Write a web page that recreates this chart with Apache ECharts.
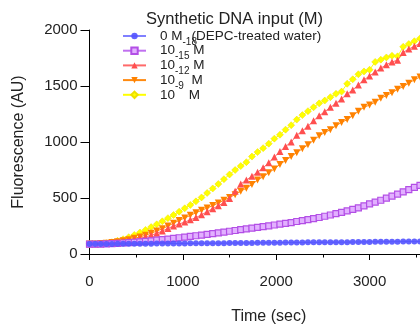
<!DOCTYPE html>
<html><head><meta charset="utf-8">
<script src="https://cdn.jsdelivr.net/npm/echarts@6/dist/echarts.min.js"></script>
<style>html,body{margin:0;padding:0;background:#fff}#c{width:420px;height:325px}</style>
</head><body><div id="c"></div>
<script>
const times = [0,60,120,180,240,300,360,420,480,540,600,660,720,780,840,900,960,1020,1080,1140,1200,1260,1320,1380,1440,1500,1560,1620,1680,1740,1800,1860,1920,1980,2040,2100,2160,2220,2280,2340,2400,2460,2520,2580,2640,2700,2760,2820,2880,2940,3000,3060,3120,3180,3240,3300,3360,3420,3480,3540];
const blueVals = [90,90,90,90,90,91,91,91,91,92,92,92,93,93,93,94,94,94,95,95,96,96,96,97,97,98,98,98,99,99,100,100,101,101,101,102,102,103,103,104,104,104,105,105,106,106,106,107,107,108,108,109,109,109,110,110,111,111,111,112];
const purpleVals = [88,88,89,90,92,95,98,101,105,109,113,118,123,128,133,139,145,151,157,163,169,175,182,189,196,203,210,217,224,231,238,245,252,259,266,273,281,290,298,307,316,326,337,348,360,372,385,398,412,430,447,463,480,498,516,535,555,575,595,612];
const redVals = [90,90,92,95,100,106,112,120,130,140,152,168,185,205,228,250,268,285,305,325,350,378,405,430,460,495,560,625,660,695,730,770,815,865,915,960,1000,1060,1100,1140,1190,1235,1270,1310,1345,1385,1430,1465,1510,1555,1590,1625,1660,1690,1715,1730,1800,1830,1855,1880];
const orangeVals = [90,90,93,97,103,110,118,128,140,152,168,185,205,225,250,275,300,322,345,368,390,410,432,455,480,505,530,560,588,620,660,690,725,760,800,835,870,905,940,975,1015,1055,1085,1110,1145,1175,1200,1235,1275,1310,1330,1355,1390,1415,1440,1470,1495,1525,1555,1580];
const yellowVals = [90,90,92,97,105,118,132,150,170,192,215,240,265,292,320,348,378,408,438,470,505,545,585,625,668,710,750,785,820,870,910,945,985,1030,1065,1110,1150,1200,1240,1275,1310,1345,1370,1400,1430,1450,1520,1560,1605,1630,1645,1715,1735,1755,1770,1765,1850,1875,1900,1925];
const seriesNames = ['0 M (DEPC-treated water)','10⁻¹⁸ M','10⁻¹⁵ M','10⁻¹² M','10⁻⁹ M'];
const legendLabels = ['0 M{s1|-18}(DEPC-treated water)','10{s|-15} M','10{s|-12} M','10{s|-9}  M','10{g| } M'];
const xTicks = [0,1000,2000,3000];
const yTicks = [0,500,1000,1500,2000];

const F = "'Liberation Sans', Arial, Helvetica, sans-serif";
const pairs = vals => vals.map((v,i)=>[times[i], v]);
const chart = echarts.init(document.getElementById('c'), null, {renderer:'canvas'});
const subStyle = {fontFamily:F,fontSize:10,lineHeight:10,verticalAlign:'bottom',color:'#222'};
const option = {
  animation:false,
  backgroundColor:'#fff',
  title:{text:'Synthetic DNA input (M)', left:146, top:11, padding:0,
    textStyle:{fontFamily:F,fontSize:16.5,fontWeight:'normal',color:'#222'}},
  legend:{orient:'vertical', left:122, top:25, itemWidth:23, itemHeight:8, itemGap:-7.3, padding:0,
    data:seriesNames,
    formatter:n=>legendLabels[seriesNames.indexOf(n)],
    textStyle:{fontFamily:F,fontSize:13.5,color:'#222',lineHeight:22,padding:[0,0,0,9],
      rich:{s:subStyle, s1:Object.assign({},subStyle,{width:9}), g:Object.assign({},subStyle,{width:10})}}},
  grid:{left:89.5,right:0,top:30,bottom:71,containLabel:false,outerBoundsMode:'none'},
  xAxis:[{type:'value',min:0,max:3540,interval:1000,name:'Time (sec)',nameLocation:'middle',nameGap:55,
    nameTextStyle:{fontFamily:F,fontSize:16,color:'#222',padding:[0,0,0,28]},
    axisLine:{show:true,lineStyle:{color:'#000',width:1}},
    axisTick:{show:true,length:6,lineStyle:{color:'#000'}},
    axisLabel:{fontFamily:F,fontSize:15,color:'#222',margin:20,showMaxLabel:false,
      formatter:v=>xTicks.indexOf(v)>=0?String(v):''},
    splitLine:{show:false}},
   {type:'value',min:0,max:3540,interval:500,position:'bottom',
    axisLine:{show:false},axisTick:{show:true,length:3.5,lineStyle:{color:'#000'}},
    axisLabel:{show:false},splitLine:{show:false}}],
  yAxis:{type:'value',min:0,max:2000,interval:500,name:'Fluorescence (AU)',nameLocation:'middle',nameGap:63,
    nameTextStyle:{fontFamily:F,fontSize:16,color:'#222'},
    axisLine:{show:true,lineStyle:{color:'#000',width:1}},
    axisTick:{show:true,length:9,lineStyle:{color:'#000'}},
    axisLabel:{fontFamily:F,fontSize:15,color:'#222',margin:12,formatter:v=>yTicks.indexOf(v)>=0?String(v):''},
    splitLine:{show:false}},
  series:[
    {name:seriesNames[0],type:'line',data:pairs(blueVals),z:7,symbol:'circle',symbolSize:6,showAllSymbol:true,
      itemStyle:{color:'#5252ff',opacity:0.9},lineStyle:{color:'#8080ff',width:1}},
    {name:seriesNames[1],type:'line',data:pairs(purpleVals),z:6,symbol:'rect',symbolSize:6,showAllSymbol:true,
      itemStyle:{color:'#e2b0ff',borderColor:'#b34fe6',borderWidth:1.2},lineStyle:{color:'#c070f0',width:1}},
    {name:seriesNames[2],type:'line',data:pairs(redVals),z:5,symbol:'triangle',symbolSize:7,showAllSymbol:true,
      itemStyle:{color:'#ff4f4f'},lineStyle:{color:'#ff6a6a',width:1}},
    {name:seriesNames[3],type:'line',data:pairs(orangeVals),z:4,symbol:'triangle',symbolRotate:180,symbolSize:7,showAllSymbol:true,
      itemStyle:{color:'#ff8200'},lineStyle:{color:'#ff8a10',width:1}},
    {name:seriesNames[4],type:'line',data:pairs(yellowVals),z:3,symbol:'diamond',symbolSize:7,showAllSymbol:true,
      itemStyle:{color:'#ffff00',borderColor:'#eee000',borderWidth:0.5},lineStyle:{color:'#ffff00',width:1}}
  ]
};
chart.setOption(option);
</script></body></html>
